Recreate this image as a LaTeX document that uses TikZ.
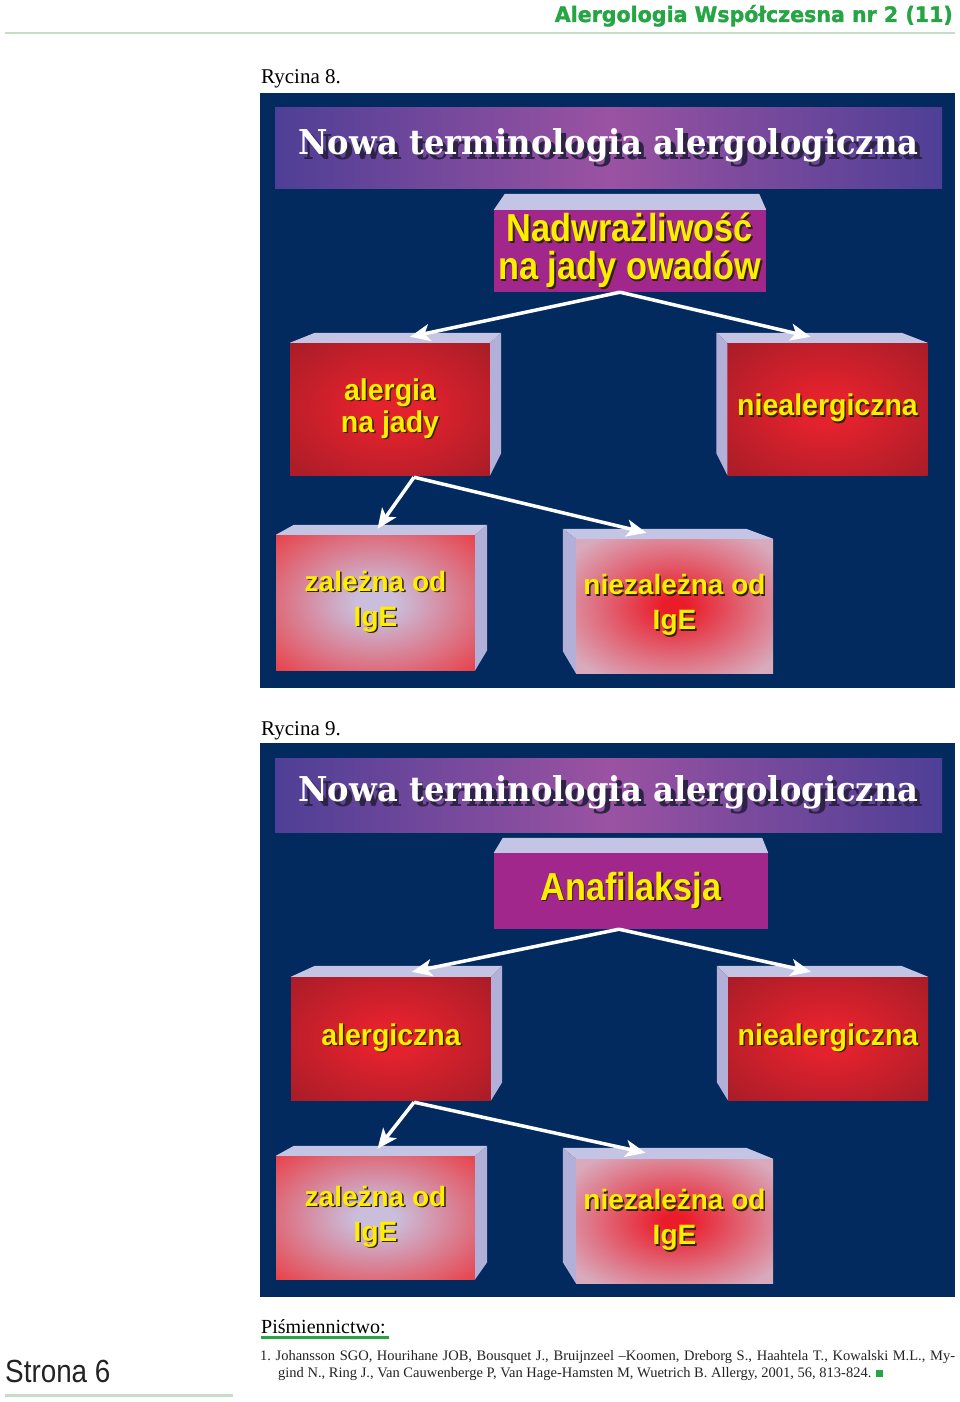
\documentclass[tikz,border=0pt]{standalone}
\usepackage{fontspec}
\usepackage{graphicx}
\setmainfont{Liberation Serif}
\newfontfamily\narrowfont[FakeStretch=0.88]{Liberation Sans}
\newfontfamily\semifont[FakeStretch=0.95]{Liberation Sans}
\newfontfamily\widefont{Liberation Sans}
\newfontfamily\stronafont[FakeStretch=0.87]{Liberation Sans}
\newfontfamily\titlefont{DejaVu Serif}
\newfontfamily\headfont[FakeBold=1.5]{DejaVu Sans}
\usetikzlibrary{arrows.meta, calc}
\definecolor{navy}{RGB}{2,42,94}
\definecolor{barside}{RGB}{78,63,150}
\definecolor{barmid}{RGB}{155,82,162}
\definecolor{magentabox}{RGB}{161,39,140}
\definecolor{facetop}{RGB}{196,196,228}
\definecolor{faceside}{RGB}{178,176,216}
\definecolor{redmid}{RGB}{228,34,46}
\definecolor{redrim}{RGB}{138,26,36}
\definecolor{zalmid}{RGB}{202,190,220}
\definecolor{zalrim}{RGB}{232,64,72}
\definecolor{niezmid}{RGB}{234,28,42}
\definecolor{niezrim}{RGB}{216,170,188}
\definecolor{labelyellow}{RGB}{255,238,0}
\definecolor{txtshade}{RGB}{50,35,0}
\definecolor{titleshade}{RGB}{45,35,70}
\definecolor{headgreen}{RGB}{37,165,68}
\definecolor{palegreen}{RGB}{198,222,198}
\definecolor{reftext}{RGB}{35,35,35}

\pgfdeclareradialshading{redglow}{\pgfpoint{0bp}{0bp}}{color(0bp)=(redmid); color(6bp)=(redmid); color(50bp)=(redrim); color(71bp)=(redrim)}
\pgfdeclareradialshading{lilacglow}{\pgfpoint{0bp}{0bp}}{color(0bp)=(zalmid); color(5bp)=(zalmid); color(36bp)=(zalrim); color(71bp)=(zalrim)}
\pgfdeclareradialshading{roseglow}{\pgfpoint{0bp}{0bp}}{color(0bp)=(niezmid); color(3bp)=(niezmid); color(32bp)=(niezrim); color(71bp)=(niezrim)}

% text with a drop shadow
\newcommand{\shtxt}[2][txtshade]{\leavevmode\rlap{\kern1.5pt\raisebox{-1.5pt}{\textcolor{#1}{#2}}}#2}
% 3d faces of a box node: node, dx back left, dx back right, depth
\newcommand{\topface}[4]{\fill[facetop] (#1.north west) -- ++(#2,-#4) -- ($(#1.north east)+(#3,-#4)$) -- (#1.north east) -- cycle;}
% node, east/west, dx, depth, rise
\newcommand{\sideface}[5]{\fill[faceside] (#1.north #2) -- ++(#3,-#4) -- ($(#1.south #2)+(#3,-#5)$) -- (#1.south #2) -- cycle;}

\begin{document}
\begin{tikzpicture}[x=1pt, y=-1pt,
    >={Stealth[length=20pt, width=17pt, inset=5pt]},
    flow/.style={->, draw=white, line width=3.5pt},
    titlebar/.style={inner sep=0pt, minimum width=667pt, left color=barside, right color=barside, middle color=barmid, text=white},
    headbox/.style={inner sep=0pt, fill=magentabox, text=labelyellow, align=center, font=\narrowfont\bfseries\fontsize{39}{38}\selectfont},
    redbox/.style={inner sep=0pt, minimum width=200pt, shade, shading=redglow, text=labelyellow, align=center, font=\semifont\bfseries\fontsize{30}{32}\selectfont},
    lilacbox/.style={inner sep=0pt, minimum width=199pt, shade, shading=lilacglow, text=labelyellow, align=center, font=\widefont\bfseries\fontsize{28}{35}\selectfont},
    rosebox/.style={inner sep=0pt, minimum width=197pt, shade, shading=roseglow, text=labelyellow, align=center, font=\widefont\bfseries\fontsize{28}{35}\selectfont},
    caption/.style={anchor=base west, inner sep=0pt, font=\fontsize{21}{24}\selectfont},
]
\useasboundingbox (0,0) rectangle (960,1402);
\fill[white] (0,0) rectangle (960,1402);

% page head
\node[anchor=base east, inner sep=0pt, text=headgreen] (journal) at (953,22)
    {\resizebox{398pt}{17pt}{\headfont\bfseries Alergologia Współczesna nr 2 (11)}};
\draw[palegreen, line width=2pt] (5,33) -- (955,33);

% Rycina 8
\node[caption] (cap8) at (261,84) {Rycina 8.};
\fill[navy] (260,93) rectangle (955,688);
\node[titlebar, minimum height=80pt] (bar8) at (608.5,148)
    {\resizebox{620pt}{26pt}{\titlefont\bfseries\shtxt[titleshade]{Nowa terminologia alergologiczna}}};
\node[headbox, minimum width=272pt, minimum height=82pt] (top8) at (630,251)
    {\shtxt{Nadwrażliwość}\\\shtxt{na jady owadów}};
\node[redbox, minimum height=132pt] (alg8) at (390,409) {\shtxt{alergia}\\\shtxt{na jady}};
\node[redbox, minimum height=132pt] (nie8) at (827.5,409) {\shtxt{niealergiczna}};
\node[lilacbox, minimum height=135pt] (zal8) at (375.5,602.5) {\shtxt{zależna od}\\\shtxt{IgE}};
\node[rosebox, minimum height=134pt] (niez8) at (674.5,606) {\shtxt{niezależna od}\\\shtxt{IgE}};
\topface{top8}{11}{-7}{16}
\topface{alg8}{25}{11}{10}
\sideface{alg8}{east}{11}{10}{22}
\topface{nie8}{-11}{-26}{10}
\sideface{nie8}{west}{-11}{10}{22}
\topface{zal8}{18}{12}{10}
\sideface{zal8}{east}{12}{10}{20}
\topface{niez8}{-13}{-27}{10}
\sideface{niez8}{west}{-13}{10}{22}
\draw[flow] ($(top8.south)+(-10,0)$) -- ($(alg8.north)+(20,-6)$);
\draw[flow] ($(top8.south)+(-10,0)$) -- ($(nie8.north)+(-17,-6)$);
\draw[flow] ($(alg8.south)+(24,2)$) -- ($(zal8.north)+(2,-6)$);
\draw[flow] ($(alg8.south)+(24,2)$) -- ($(niez8.north)+(-28,-6)$);

% Rycina 9
\node[caption] (cap9) at (261,735) {Rycina 9.};
\fill[navy] (260,743) rectangle (955,1297);
\node[titlebar, minimum height=74pt] (bar9) at (608.5,795)
    {\resizebox{620pt}{26pt}{\titlefont\bfseries\shtxt[titleshade]{Nowa terminologia alergologiczna}}};
\node[headbox, minimum width=274pt, minimum height=76pt] (top9) at (631,891) {\shtxt{Anafilaksja}};
\node[redbox, minimum height=123pt] (alg9) at (391,1038.5) {\shtxt{alergiczna}};
\node[redbox, minimum height=123pt] (nie9) at (828,1038.5) {\shtxt{niealergiczna}};
\node[lilacbox, minimum height=123pt] (zal9) at (375.5,1217.5) {\shtxt{zależna od}\\\shtxt{IgE}};
\node[rosebox, minimum height=124pt] (niez9) at (674.5,1221) {\shtxt{niezależna od}\\\shtxt{IgE}};
\topface{top9}{9}{-6}{15}
\topface{alg9}{24}{11}{11}
\sideface{alg9}{east}{11}{11}{18}
\topface{nie9}{-11}{-27}{11}
\sideface{nie9}{west}{-11}{11}{18}
\topface{zal9}{18}{12}{10}
\sideface{zal9}{east}{12}{10}{17}
\topface{niez9}{-13}{-27}{11}
\sideface{niez9}{west}{-13}{11}{21}
\draw[flow] ($(top9.south)+(-12,0)$) -- ($(alg9.north)+(21,-5)$);
\draw[flow] ($(top9.south)+(-12,0)$) -- ($(nie9.north)+(-17,-5)$);
\draw[flow] ($(alg9.south)+(23,2)$) -- ($(zal9.north)+(2,-7)$);
\draw[flow] ($(alg9.south)+(23,2)$) -- ($(niez9.north)+(-29,-6)$);

% page foot
\node[anchor=base west, inner sep=0pt, font=\fontsize{20}{24}\selectfont] (lit) at (261,1333) {Piśmiennictwo:};
\draw[headgreen, line width=3.5pt] (lit.south west) ++(0,4) -- ($(lit.south east)+(3,4)$);
\node[anchor=north west, inner sep=0pt, align=left, text=reftext, font=\fontsize{14.5}{17}\selectfont] (ref1) at (260,1350)
    {\makebox[695pt][s]{1.~Johansson SGO, Hourihane JOB, Bousquet J., Bruijnzeel –Koomen, Dreborg S., Haahtela T., Kowalski M.L., My-}\\
     \hspace*{18pt}gind N., Ring J., Van Cauwenberge P, Van Hage-Hamsten M, Wuetrich B. Allergy, 2001, 56, 813-824. \textcolor{headgreen}{\rule{7pt}{7pt}}};
\node[anchor=base west, inner sep=0pt, text=reftext, font=\stronafont\fontsize{32}{36}\selectfont] (page) at (5,1382) {Strona 6};
\draw[palegreen, line width=3pt] (5,1395) -- (233,1395);
\end{tikzpicture}
\end{document}
